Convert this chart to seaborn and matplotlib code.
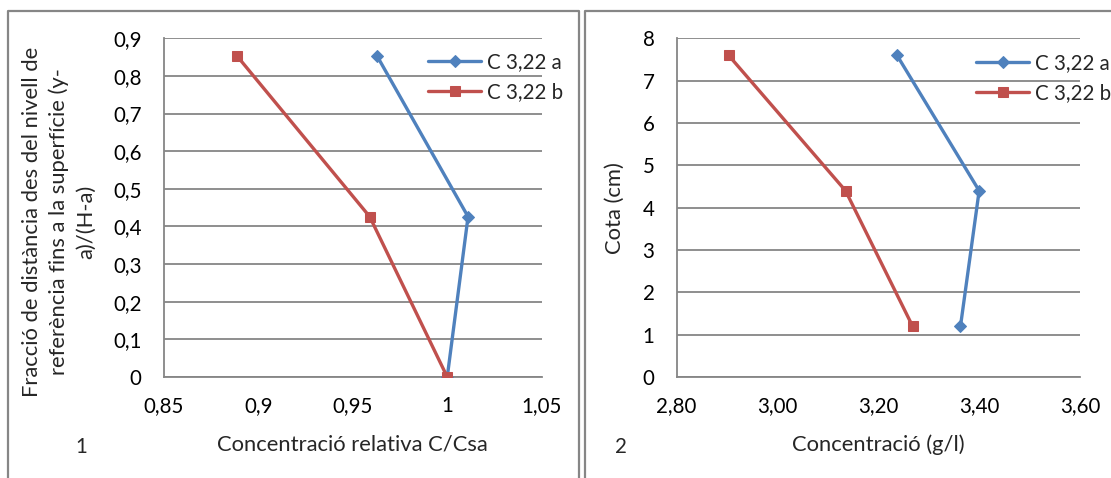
import numpy as np
import pandas as pd
import matplotlib
matplotlib.use("Agg")
import matplotlib.pyplot as plt
from matplotlib.lines import Line2D
import seaborn as sns

# ---- data ----
series_names = ["C 3,22 a", "C 3,22 b"]
cota = [1.2, 4.4, 7.6]
conc_a = [3.363, 3.400, 3.237]
conc_b = [3.268, 3.135, 2.903]
frac = [0.0, 0.426, 0.852]
rel_a = [1.0, 1.011, 0.963]
rel_b = [1.0, 0.959, 0.889]

x1_ticks = [0.85, 0.9, 0.95, 1.0, 1.05]
x1_labels = ["0,85", "0,9", "0,95", "1", "1,05"]
y1_ticks = [0, 0.1, 0.2, 0.3, 0.4, 0.5, 0.6, 0.7, 0.8, 0.9]
y1_labels = ["0", "0,1", "0,2", "0,3", "0,4", "0,5", "0,6", "0,7", "0,8", "0,9"]
x2_ticks = [2.8, 3.0, 3.2, 3.4, 3.6]
x2_labels = ["2,80", "3,00", "3,20", "3,40", "3,60"]
y2_ticks = [0, 1, 2, 3, 4, 5, 6, 7, 8]
y2_labels = ["0", "1", "2", "3", "4", "5", "6", "7", "8"]

sns.set_theme(style="white")
plt.rcParams["font.family"] = ["Lato", "DejaVu Sans"]

W, H = 1111, 478
fig = plt.figure(figsize=(W / 100, H / 100), dpi=100)

BLUE = "#4F81BD"
RED = "#C0504D"
GRAY = "#868686"
FS_T = 14.8   # ticks / legend
FS_L = 15.8   # axis titles


def fx(px):
    return px / W


def fy(py):
    return 1 - py / H


ax1 = fig.add_axes([fx(163.6), fy(377), fx(541.8) - fx(163.6), fy(38.3) - fy(377)])
ax2 = fig.add_axes([fx(676.6), fy(377), fx(1080) - fx(676.6), fy(38.3) - fy(377)])

df1 = pd.DataFrame({"x": rel_a + rel_b, "y": frac + frac,
                    "s": [series_names[0]] * 3 + [series_names[1]] * 3})
df2 = pd.DataFrame({"x": conc_a + conc_b, "y": cota + cota,
                    "s": [series_names[0]] * 3 + [series_names[1]] * 3})

for ax, df in [(ax1, df1), (ax2, df2)]:
    for name, col, mk, ms in [(series_names[0], BLUE, "D", 6), (series_names[1], RED, "s", 7)]:
        sub = df[df["s"] == name]
        sns.lineplot(data=sub, x="x", y="y", sort=False, estimator=None, ax=ax,
                     color=col, linewidth=2.4, marker=mk, markersize=ms,
                     markeredgecolor=col, markerfacecolor=col, label=name, zorder=3)

def style_axis(ax, xt, xl, yt, yl, xlim, ylim):
    ax.set_xlim(*xlim)
    ax.set_ylim(*ylim)
    ax.set_xticks(xt)
    ax.set_xticklabels(xl)
    ax.set_yticks(yt)
    ax.set_yticklabels(yl)
    ax.grid(False)
    ax.yaxis.grid(True, color=GRAY, linewidth=1.3)
    for sp in ["top", "right"]:
        ax.spines[sp].set_visible(False)
    for sp in ["left", "bottom"]:
        ax.spines[sp].set_color(GRAY)
        ax.spines[sp].set_linewidth(1.3)
    ax.tick_params(axis="both", direction="out", length=5, width=1.3, color=GRAY,
                   labelsize=FS_T, labelcolor="black")
    ax.tick_params(axis="x", pad=9)
    ax.tick_params(axis="y", pad=11)
    ax.set_axisbelow(True)
    ax.patch.set_alpha(0)

style_axis(ax1, x1_ticks, x1_labels, y1_ticks, y1_labels, (0.85, 1.05), (0, 0.9))
style_axis(ax2, x2_ticks, x2_labels, y2_ticks, y2_labels, (2.8, 3.6), (0, 8))

ax1.set_xlabel("Concentració relativa C/Csa", fontsize=FS_L, labelpad=13)
ax2.set_xlabel("Concentració (g/l)", fontsize=FS_L, labelpad=13)
ax1.set_ylabel("")
ax2.set_ylabel("Cota (cm)", fontsize=FS_L, labelpad=13)

fig.text(fx(59), fy(222),
         "Fracció de distància des del nivell de\nreferència fins a la superfície (y-\na)/(H-a)",
         rotation=90, ha="center", va="center", multialignment="center", fontsize=FS_L,
         linespacing=1.4)

fig.text(fx(81), fy(447), "1", ha="center", va="center", fontsize=FS_T)
fig.text(fx(621), fy(447), "2", ha="center", va="center", fontsize=FS_T)

for ax, (lx, ly) in [(ax1, (428, 52)), (ax2, (976, 53))]:
    ax.legend(loc="upper left", bbox_to_anchor=(fx(lx), fy(ly)),
              bbox_transform=fig.transFigure, frameon=False, fontsize=FS_T,
              handlelength=2.6, handletextpad=0.25, labelspacing=0.5,
              borderpad=0, borderaxespad=0)

# panel borders
for x0, x1 in [(8, 578.7), (585, 1200)]:
    fig.add_artist(Line2D([fx(x0), fx(x0), fx(x1), fx(x1)],
                          [fy(500), fy(11), fy(11), fy(500)],
                          transform=fig.transFigure, color=GRAY, linewidth=1.6))

fig.savefig("out.png", dpi=100)
